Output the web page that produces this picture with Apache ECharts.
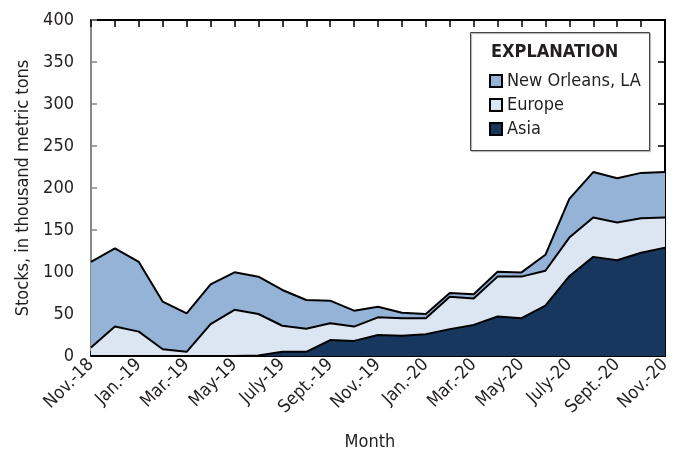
<!DOCTYPE html>
<html>
<head>
<meta charset="utf-8">
<script src="https://cdn.jsdelivr.net/npm/echarts@6/dist/echarts.min.js"></script>
<style>html,body{margin:0;padding:0;background:#fff}#c{width:682px;height:453px}</style>
</head>
<body>
<div id="c"></div>
<script>
var months = ["Nov.-18","Dec.-18","Jan.-19","Feb.-19","Mar.-19","Apr.-19","May-19","June-19","July-19","Aug.-19","Sept.-19","Oct.-19","Nov.-19","Dec.-19","Jan.-20","Feb.-20","Mar.-20","Apr.-20","May-20","June-20","July-20","Aug.-20","Sept.-20","Oct.-20","Nov.-20"];
var asia = [0,0,0,0,0,0,0,0.5,5,5,19,18,25,24,26,32,37,47,45,60,95,118,114,123,129];
var europe = [10,35,29,8,5,38,55,49.5,31,27.5,20,17,21,21,19,38.5,31.5,47.5,49.5,41.5,46,47,45,41,36];
var newOrleans = [102,93,83,56.7,45.8,47.3,44.6,44.4,42.6,34.2,26.9,19,12.7,6.6,5,4.5,4.9,5.9,5,19,46,54,52.5,54,54];
var yTicks = [0,50,100,150,200,250,300,350,400];

var FONT = "'DejaVu Sans Condensed','Liberation Sans Narrow','Arial Narrow',sans-serif";
var TXT = '#231f20';
var chart = echarts.init(document.getElementById('c'), null, {renderer:'canvas'});

function areaSeries(name, data, color) {
  return {
    name: name, type: 'line', stack: 'total', data: data,
    symbol: 'none', smooth: false,
    itemStyle: {color: color, borderColor: '#000', borderWidth: 1.5},
    lineStyle: {color: '#000', width: 2},
    areaStyle: {color: color, opacity: 1},
    emphasis: {disabled: true}
  };
}

chart.setOption({
  animation: false,
  textStyle: {fontFamily: FONT},
  grid: {left: 91, right: 17, top: 20, bottom: 97, containLabel: false, outerBoundsMode: 'none'},
  legend: {
    orient: 'vertical', left: 484, top: 67,
    itemWidth: 12, itemHeight: 12, itemGap: 6,
    icon: 'rect',
    data: ['New Orleans, LA', 'Europe', 'Asia'],
    textStyle: {fontFamily: FONT, fontSize: 18, color: TXT, lineHeight: 18},
    selectedMode: false
  },
  graphic: [
    {type: 'rect', left: 470, top: 32, shape: {width: 179, height: 118},
     style: {fill: 'rgba(0,0,0,0)', stroke: '#444', lineWidth: 1,
             shadowColor: 'rgba(0,0,0,0.35)', shadowOffsetX: 1, shadowOffsetY: 1, shadowBlur: 1}, z: 10},
    {type: 'text', left: 491, top: 43,
     style: {text: 'EXPLANATION', font: 'bold 18px ' + FONT, fill: TXT}, z: 11}
  ],
  xAxis: [
    {
      type: 'category', data: months, boundaryGap: false, position: 'bottom',
      name: 'Month', nameLocation: 'middle', nameGap: 77,
      nameTextStyle: {fontFamily: FONT, fontSize: 18, color: TXT, padding: [0, 16, 0, 0]},
      axisLine: {onZero: false, lineStyle: {color: '#000', width: 2}},
      axisTick: {inside: true, length: 5, interval: 0, lineStyle: {color: '#000', width: 1.5}},
      axisLabel: {interval: 1, rotate: 45, fontSize: 18, color: TXT, fontFamily: FONT, margin: 6},
      splitLine: {show: false}
    },
    {
      type: 'category', data: months, boundaryGap: false, position: 'top',
      axisLine: {onZero: false, lineStyle: {color: '#000', width: 2}},
      axisTick: {inside: true, length: 7, interval: 0, lineStyle: {color: '#000', width: 1.5}},
      axisLabel: {show: false}, splitLine: {show: false}
    }
  ],
  yAxis: [
    {
      type: 'value', min: 0, max: 400, interval: 50, position: 'left',
      name: 'Stocks, in thousand metric tons', nameLocation: 'middle', nameGap: 58, nameRotate: 90,
      nameTextStyle: {fontFamily: FONT, fontSize: 18, color: TXT},
      axisLine: {show: true, onZero: false, lineStyle: {color: '#888', width: 2}},
      axisTick: {show: true, inside: true, length: 6, lineStyle: {color: '#888', width: 1.5}},
      axisLabel: {fontSize: 18, color: TXT, fontFamily: FONT, margin: 17,
        formatter: function(v){ return yTicks.indexOf(v) >= 0 ? String(v) : ''; }},
      splitLine: {show: false}
    },
    {
      type: 'value', min: 0, max: 400, interval: 50, position: 'right',
      axisLine: {show: true, onZero: false, lineStyle: {color: '#000', width: 2}},
      axisTick: {show: true, inside: true, length: 7, lineStyle: {color: '#000', width: 1.5}},
      axisLabel: {show: false}, splitLine: {show: false}
    }
  ],
  series: [
    areaSeries('Asia', asia, '#17375e'),
    areaSeries('Europe', europe, '#dce6f2'),
    areaSeries('New Orleans, LA', newOrleans, '#95b3d7')
  ]
});
</script>
</body>
</html>
